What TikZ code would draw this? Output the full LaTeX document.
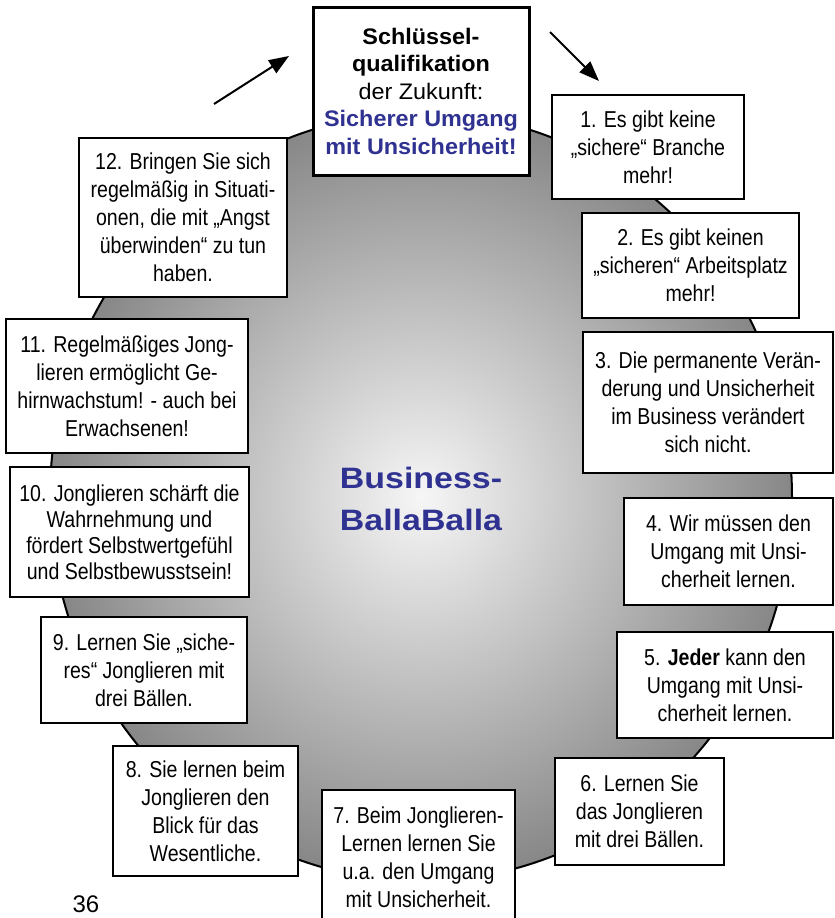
\documentclass[tikz,border=0pt]{standalone}
\usepackage{fontspec}
\setmainfont{Liberation Sans}
\newfontfamily\narrowfont[FakeStretch=0.85]{Liberation Sans}
\newfontfamily\topfont[FakeStretch=1.04]{Liberation Sans}
\newfontfamily\ballafont[FakeStretch=1.15]{Liberation Sans}
\usetikzlibrary{arrows.meta}
\definecolor{balla}{RGB}{48,50,146}
\definecolor{rim}{RGB}{135,135,135}
\definecolor{core}{RGB}{246,246,246}
\newcommand{\drawrim}{\draw[line width=2pt]}
\newcommand{\tafel}[6]{\node[tipbox, minimum width={#4-#2}, minimum height={#5-#3}] (#1) at ({(#2+#4)/2},{(#3+#5)/2}) {#6};}
\tikzset{tipbox/.style={draw, fill=white, line width=2.5pt, align=center, inner sep=0pt, font=\narrowfont\fontsize{23}{28}\selectfont},
  pfeil/.style={line width=2pt, -{Triangle[length=20pt,width=15pt]}}}

\begin{document}
\begin{tikzpicture}[x=1pt,y=-1pt]
\useasboundingbox (0,0) rectangle (835,918);
\shade[inner color=core, outer color=rim] (421,497) ellipse [x radius=371, y radius=384];
\drawrim (421,497) ellipse [x radius=371, y radius=384];
\node[font=\ballafont\bfseries\fontsize{29.5}{42}\selectfont, text=balla, align=center] (mitte) at (421,499) {Business-\\BallaBalla};
\node[tipbox, line width=3pt, font=\topfont\fontsize{22.5}{27.5}\selectfont, minimum width=216, minimum height=168] (key) at (421,91) {\textbf{Schlüssel-}\\\textbf{qualifikation}\\der Zukunft:\\\textcolor{balla}{\textbf{Sicherer Umgang}}\\\textcolor{balla}{\textbf{mit Unsicherheit!}}};
\tafel{t1}{552}{95}{744}{199}{1. Es gibt keine\\„sichere“ Branche\\mehr!}
\tafel{t2}{582}{213}{799}{318}{2. Es gibt keinen\\„sicheren“ Arbeitsplatz\\mehr!}
\tafel{t3}{583}{332}{833}{473}{3. Die permanente Verän-\\derung und Unsicherheit\\im Business verändert\\sich nicht.}
\tafel{t4}{624}{498}{833}{605}{4. Wir müssen den\\Umgang mit Unsi-\\cherheit lernen.}
\tafel{t5}{617}{632}{833}{738}{5. \textbf{Jeder} kann den\\Umgang mit Unsi-\\cherheit lernen.}
\tafel{t6}{555}{758}{724}{865}{6. Lernen Sie\\das Jonglieren\\mit drei Bällen.}
\tafel{t7}{322}{790}{515}{924}{7. Beim Jonglieren-\\Lernen lernen Sie\\u.a. den Umgang\\mit Unsicherheit.}
\tafel{t8}{113}{746}{298}{876}{8. Sie lernen beim\\Jonglieren den\\Blick für das\\Wesentliche.}
\tafel{t9}{41}{617}{247}{723}{9. Lernen Sie „siche-\\res“ Jonglieren mit\\drei Bällen.}
\tafel{t10}{10}{467}{249}{597}{10. Jonglieren schärft die\\[-2pt]Wahrnehmung und\\[-2pt]fördert Selbstwertgefühl\\[-2pt]und Selbstbewusstsein!}
\tafel{t11}{6}{319}{248}{453}{11. Regelmäßiges Jong-\\lieren ermöglicht Ge-\\hirnwachstum! - auch bei\\Erwachsenen!}
\tafel{t12}{79}{138}{287}{297}{12. Bringen Sie sich\\regelmäßig in Situati-\\onen, die mit „Angst\\überwinden“ zu tun\\haben.}
\coordinate (la) at (214,104);
\coordinate (lb) at (289,56);
\coordinate (ra) at (550,32);
\coordinate (rb) at (599,81);
\draw[pfeil] (la) -- (lb);
\draw[pfeil] (ra) -- (rb);
\node[font=\fontsize{24}{24}\selectfont, anchor=base, inner sep=0pt] (seite) at (86,912) {36};
\end{tikzpicture}
\end{document}
